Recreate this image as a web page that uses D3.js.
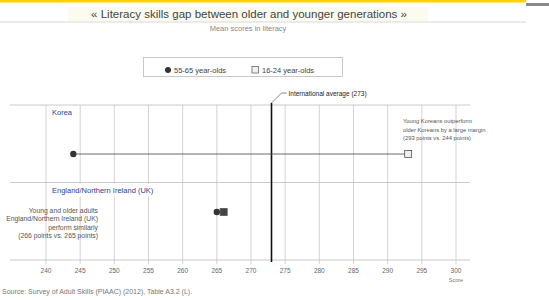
<!DOCTYPE html>
<html>
<head>
<meta charset="utf-8">
<script src="https://cdn.jsdelivr.net/npm/d3@7"></script>
<style>
  body { margin: 0; background: #fff; }
  svg { display: block; font-family: "Liberation Sans", Arial, sans-serif; }
</style>
</head>
<body>
<div id="chart"></div>
<script>
// data
const countries = ["Korea", "England/Northern Ireland (UK)"];
const olderScores = [244, 265];   // 55-65 year-olds
const youngerScores = [293, 266]; // 16-24 year-olds
const tickValues = [240, 245, 250, 255, 260, 265, 270, 275, 280, 285, 290, 295, 300];
const intlAverage = 273;
const legendLabels = ["55-65 year-olds", "16-24 year-olds"];
const notes = [
    ["Young Koreans outperform", "older Koreans by a large margin", "(293 points vs. 244 points)"],
    ["Young and older adults", "England/Northern Ireland (UK)", "perform similarly", "(266 points vs. 265 points)"]
];

const width = 549, height = 300;
const svg = d3.select("#chart").append("svg")
    .attr("width", width)
    .attr("height", height);

// top banner
svg.append("rect").attr("x", 0).attr("y", 0).attr("width", 526).attr("height", 2.5).attr("fill", "#ffd200");
svg.append("rect").attr("x", 526).attr("y", 3).attr("width", 23).attr("height", 3).attr("fill", "#8a8a8a");
svg.append("rect").attr("x", 68).attr("y", 7).attr("width", 360).attr("height", 14).attr("fill", "#fbfbf0");
svg.append("line").attr("x1", 0).attr("x2", 526).attr("y1", 22).attr("y2", 22)
    .attr("stroke", "#e4e4e4").attr("stroke-width", 1.5);

svg.append("text")
    .attr("x", 249).attr("y", 17.5)
    .attr("text-anchor", "middle")
    .style("font-size", "11.5px").style("fill", "#444")
    .text("« Literacy skills gap between older and younger generations »");
svg.append("text")
    .attr("x", 248).attr("y", 31)
    .attr("text-anchor", "middle")
    .style("font-size", "7.5px").style("fill", "#888")
    .text("Mean scores in literacy");

// scales
const x = d3.scaleLinear().domain([240, 300]).range([46, 456]);
const panel = d3.scaleBand().domain(countries).range([105, 260]);
const rowY = d3.scalePoint().domain(countries).range([154, 212]);

// legend
const legend = svg.append("g");
legend.append("rect").attr("x", 143.5).attr("y", 57.5).attr("width", 199).attr("height", 19)
    .attr("fill", "none").attr("stroke", "#bbb").attr("stroke-width", 0.8);
legend.append("circle").attr("cx", 168).attr("cy", 70).attr("r", 3).attr("fill", "#333");
legend.append("text").attr("x", 174).attr("y", 72.5).style("font-size", "7.5px").style("fill", "#444").text(legendLabels[0]);
legend.append("rect").attr("x", 252).attr("y", 66.5).attr("width", 6.5).attr("height", 6.5)
    .attr("fill", "#f2f2f2").attr("stroke", "#666").attr("stroke-width", 0.8);
legend.append("text").attr("x", 262).attr("y", 72.5).style("font-size", "7.5px").style("fill", "#444").text(legendLabels[1]);

// vertical grid
svg.append("g").selectAll("line")
    .data(tickValues)
    .join("line")
    .attr("x1", d => x(d)).attr("x2", d => x(d))
    .attr("y1", 105).attr("y2", 264)
    .attr("stroke", "#c8c8c8").attr("stroke-width", 0.8);

// panel separators
const seps = [105].concat(countries.map(c => panel(c) + panel.bandwidth()));
svg.append("g").selectAll("line")
    .data(seps)
    .join("line")
    .attr("x1", 10).attr("x2", 470)
    .attr("y1", d => d).attr("y2", d => d)
    .attr("stroke", "#bdbdbd").attr("stroke-width", 0.8);

// panel titles with white boxes
const titles = svg.append("g");
countries.forEach(c => {
    const g = titles.append("g");
    const t = g.append("text")
        .attr("x", 52).attr("y", panel(c) + 10)
        .style("font-size", "7.5px").style("fill", "#2e3d8f")
        .text(c);
    const bb = t.node().getBBox();
    g.insert("rect", "text")
        .attr("x", bb.x - 3).attr("y", bb.y - 2)
        .attr("width", bb.width + 6).attr("height", bb.height + 4)
        .attr("fill", "#fff");
});

// x axis labels
svg.append("g").selectAll("text")
    .data(tickValues)
    .join("text")
    .attr("x", d => x(d)).attr("y", 272.5)
    .attr("text-anchor", "middle")
    .style("font-size", "6.5px").style("fill", "#666")
    .text(d => d);
svg.append("text")
    .attr("x", x(300)).attr("y", 281.5)
    .attr("text-anchor", "middle")
    .style("font-size", "5.5px").style("fill", "#777")
    .text("Score");

// international average
svg.append("line")
    .attr("x1", x(intlAverage)).attr("x2", x(intlAverage))
    .attr("y1", 103).attr("y2", 262)
    .attr("stroke", "#111").attr("stroke-width", 1.6);
svg.append("path")
    .attr("d", `M${x(intlAverage)},103 L${x(intlAverage) + 10},93 L${x(intlAverage) + 15},93`)
    .attr("fill", "none").attr("stroke", "#555").attr("stroke-width", 0.7);
svg.append("text")
    .attr("x", x(intlAverage) + 17).attr("y", 95.5)
    .style("font-size", "6.5px").style("fill", "#222")
    .text(`International average (${intlAverage})`);

// connecting lines
svg.append("g").selectAll("line")
    .data(countries)
    .join("line")
    .attr("x1", (d, i) => x(olderScores[i]))
    .attr("x2", (d, i) => x(youngerScores[i]))
    .attr("y1", d => rowY(d)).attr("y2", d => rowY(d))
    .attr("stroke", "#444").attr("stroke-width", 0.8);

// younger (squares)
svg.append("g").selectAll("rect")
    .data(countries)
    .join("rect")
    .attr("x", (d, i) => x(youngerScores[i]) - 3.5)
    .attr("y", d => rowY(d) - 3.5)
    .attr("width", 7).attr("height", 7)
    .attr("fill", (d, i) => i === 1 ? "#444" : "#eee")
    .attr("stroke", "#555").attr("stroke-width", 0.8);

// older (circles)
svg.append("g").selectAll("circle")
    .data(countries)
    .join("circle")
    .attr("cx", (d, i) => x(olderScores[i]))
    .attr("cy", d => rowY(d))
    .attr("r", 3.2)
    .attr("fill", "#333");

// annotations
svg.append("text")
    .attr("x", 403).attr("y", 123)
    .style("font-size", "5.8px").style("fill", "#555")
    .selectAll("tspan").data(notes[0]).join("tspan")
    .attr("x", 403).attr("dy", (d, i) => i ? 8.5 : 0)
    .text(d => d);
svg.append("text")
    .attr("x", 98).attr("y", 213)
    .attr("text-anchor", "end")
    .style("font-size", "6.8px").style("fill", "#555")
    .selectAll("tspan").data(notes[1]).join("tspan")
    .attr("x", 98).attr("dy", (d, i) => i ? 8.3 : 0)
    .text(d => d);

// source
svg.append("text")
    .attr("x", 2).attr("y", 294)
    .style("font-size", "7px").style("fill", "#777")
    .text("Source: Survey of Adult Skills (PIAAC) (2012), Table A3.2 (L).");
</script>
</body>
</html>
